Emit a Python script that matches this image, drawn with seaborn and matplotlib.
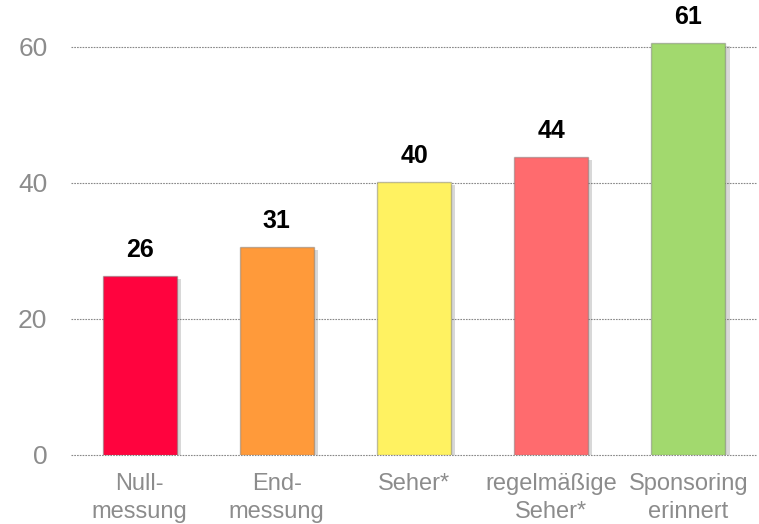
import matplotlib
matplotlib.use("Agg")
import matplotlib.pyplot as plt
import matplotlib.patheffects as pe
import seaborn as sns
import pandas as pd

categories = ["Null-\nmessung", "End-\nmessung", "Seher*", "regelmäßige\nSeher*", "Sponsoring\nerinnert"]
values = [26.3, 30.6, 40.1, 43.8, 60.6]
colors = ["#FF033E", "#FF9A3A", "#FFF261", "#FF6B6E", "#A2D96E"]
yticks = [0, 20, 40, 60]

sns.set_theme(style="white")
plt.rcParams['font.family'] = ['Liberation Sans', 'DejaVu Sans']

df = pd.DataFrame({"cat": categories, "val": values})

fig = plt.figure(figsize=(7.59, 5.24), dpi=100)
W, H = 759, 524
left, right = 71, 757
bottom_px = 455
top_px = 6
ax = fig.add_axes([left / W, 1 - bottom_px / H, (right - left) / W, (bottom_px - top_px) / H])

sns.barplot(data=df, x="cat", y="val", hue="cat", palette=colors, legend=False, saturation=1,
            width=0.54, ax=ax, edgecolor=(0.45, 0.45, 0.45, 0.45), linewidth=1, zorder=3)

for p in ax.patches:
    p.set_path_effects([pe.SimplePatchShadow(offset=(3, -2), shadow_rgbFace=(0.4, 0.4, 0.4), alpha=0.25),
                        pe.Normal()])

ax.set_xlim(-0.5, len(categories) - 0.5)
ax.set_ylim(0, (bottom_px - top_px) / 6.8)
ax.set_yticks(yticks)
ax.yaxis.grid(True, linestyle=(0, (1.5, 1)), color="#888888", linewidth=0.8, zorder=0)
ax.set_axisbelow(True)
for gl in ax.get_ygridlines():
    gl.set_clip_on(False)
ax.xaxis.grid(False)
for s in ax.spines.values():
    s.set_visible(False)
ax.set_xlabel("")
ax.set_ylabel("")
ax.tick_params(axis="y", length=0, pad=17, labelsize=19, labelcolor="#8C8C8C")
ax.tick_params(axis="x", length=0, pad=13, labelsize=17, labelcolor="#8C8C8C")
for t in ax.get_xticklabels():
    t.set_linespacing(1.35)

for c in ax.containers:
    ax.bar_label(c, fmt="%.0f", padding=10, fontsize=18, fontweight="bold", color="black")

fig.savefig("out.png", dpi=100)
